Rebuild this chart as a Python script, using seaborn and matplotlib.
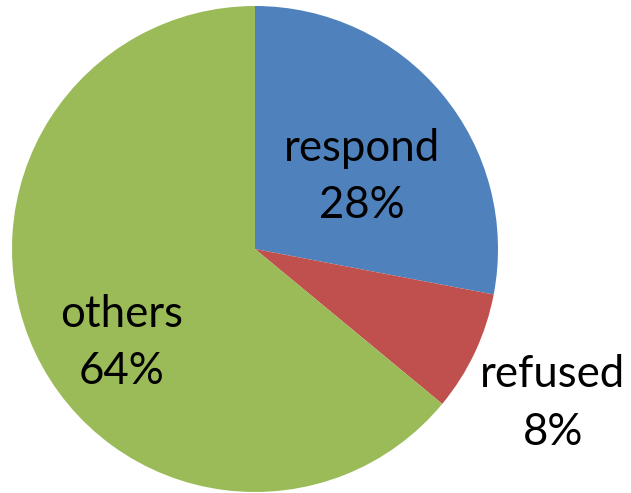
import numpy as np
import matplotlib
matplotlib.use("Agg")
import matplotlib.pyplot as plt
import seaborn as sns

# Share of responses by outcome
categories = ["respond", "refused", "others"]
shares = [28, 8, 64]
colors = ["#4F81BD", "#C0504D", "#9BBB59"]

# Label placement as (radial distance in radii, angular offset from wedge middle in degrees)
label_dist = [0.53, 1.38, 0.67]
label_shift = [-5.5, -2.2, 10.0]

sns.set_style("white")
plt.rcParams["font.family"] = ["Lato", "DejaVu Sans"]

W, H = 631, 493
fig = plt.figure(figsize=(W / 100, H / 100), dpi=100)
ax = fig.add_axes([0, 0, 1, 1])

cx, cy, R = 255, 493 - 249, 243
palette = sns.color_palette(colors)
wedges, _ = ax.pie(shares, colors=palette, startangle=90, counterclock=False,
                   center=(cx, cy), radius=R,
                   wedgeprops=dict(linewidth=0), frame=False)

for w, name, val, d, s in zip(wedges, categories, shares, label_dist, label_shift):
    mid = np.deg2rad((w.theta1 + w.theta2) / 2 + s)
    x = cx + d * R * np.cos(mid)
    y = cy + d * R * np.sin(mid)
    ax.text(x, y, f"{name}\n{val}%", ha="center", va="center",
            fontsize=31.5, linespacing=1.5, color="black")

ax.set_xlim(0, W)
ax.set_ylim(0, H)
ax.set_aspect("equal")
ax.axis("off")
fig.savefig("out.png", dpi=100)
